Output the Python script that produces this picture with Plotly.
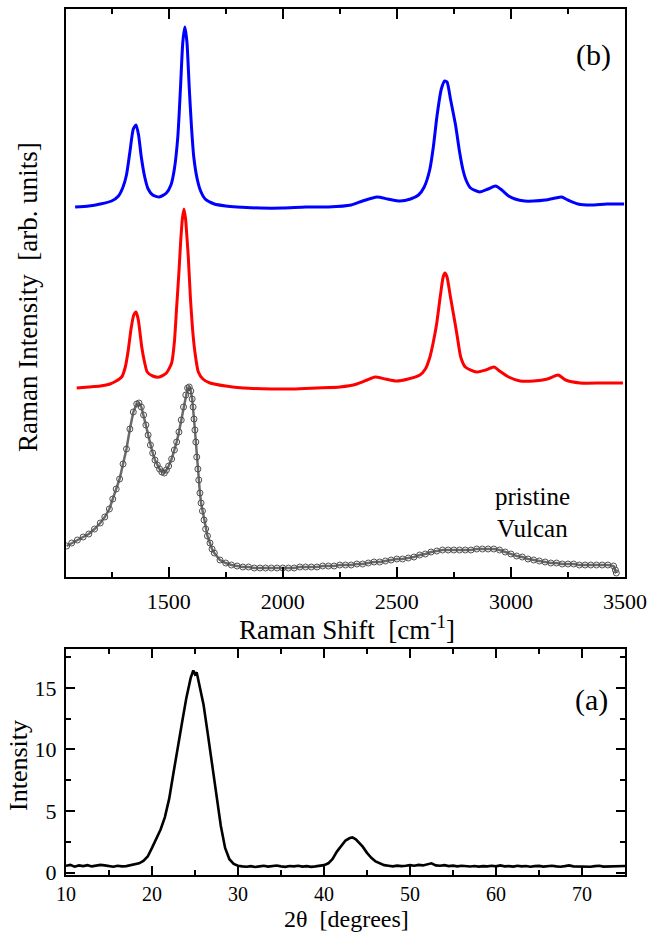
import plotly.graph_objects as go

W, H = 649, 935

# ---------------- Raman data (arb. units) ----------------
blue_x = [1090, 1150, 1200, 1250, 1280, 1300, 1315, 1330, 1345, 1357, 1368, 1380, 1395, 1410, 1430,
          1459, 1490, 1510, 1525, 1540, 1552, 1562, 1571, 1580, 1590, 1600, 1610, 1625, 1640, 1660,
          1700, 1750, 1800, 1900, 2000, 2100, 2200, 2300, 2350, 2413, 2460, 2514, 2560, 2595, 2620,
          2644, 2660, 2676, 2695, 2710, 2720, 2735, 2758, 2775, 2790, 2805, 2823, 2863, 2900, 2933,
          2960, 2990, 3018, 3060, 3099, 3150, 3195, 3222, 3250, 3294, 3350, 3420, 3496]
blue_y = [370, 371, 373, 376, 381, 390, 402, 425, 448, 452, 442, 420, 400, 388, 382,
          380, 384, 392, 408, 440, 490, 535, 550, 535, 490, 450, 420, 398, 386, 378,
          373, 371, 370, 369, 369, 370, 370, 372, 376, 380, 378, 376, 378, 382, 390,
          407, 430, 461, 488, 496, 495, 478, 451, 425, 407, 396, 389, 385, 388, 391,
          387, 381, 378, 376, 376, 377, 379, 380, 377, 373, 372, 373, 373]

red_x = [1097, 1150, 1200, 1243, 1270, 1294, 1310, 1323, 1335, 1347, 1357, 1367, 1375, 1382, 1395,
         1406, 1430, 1459, 1490, 1513, 1525, 1535, 1545, 1553, 1560, 1567, 1574, 1580, 1586, 1595,
         1605, 1615, 1630, 1650, 1681, 1750, 1827, 1950, 2046, 2150, 2251, 2325, 2370, 2404, 2450,
         2499, 2550, 2601, 2625, 2645, 2660, 2675, 2690, 2703, 2711, 2720, 2735, 2755, 2768, 2780,
         2800, 2850, 2890, 2926, 2950, 2990, 3040, 3100, 3160, 3207, 3240, 3303, 3400, 3491]
red_y = [189, 190, 191, 193, 196, 200, 210, 227, 248, 262, 265, 257, 243, 230, 214,
         205, 201, 200, 204, 214, 235, 270, 305, 337, 358, 368, 358, 340, 320, 280,
         247, 225, 205, 198, 194, 191, 189, 188, 188, 189, 190, 193, 197, 200, 198,
         196, 198, 202, 208, 220, 235, 254, 280, 300, 304, 300, 280, 254, 236, 220,
         210, 205, 207, 210, 206, 200, 196, 196, 198, 202, 197, 194, 194, 194]

vulcan_x = [1053, 1075, 1100, 1125, 1150, 1175, 1200, 1220, 1240, 1255, 1270, 1285, 1300, 1315, 1330,
            1345, 1360, 1370, 1380, 1390, 1400, 1410, 1420, 1430, 1440, 1450, 1460, 1470, 1481, 1490,
            1500, 1513, 1525, 1535, 1545, 1555, 1565, 1575, 1583, 1590, 1597, 1603, 1607, 1611, 1615,
            1619, 1623, 1628, 1632, 1637, 1642, 1648, 1655, 1662, 1670, 1681, 1690, 1700, 1725, 1750,
            1775, 1800, 1825, 1850, 1875, 1900, 1925, 1950, 1975, 2000, 2025, 2050, 2075, 2100, 2125,
            2150, 2175, 2200, 2225, 2250, 2275, 2300, 2325, 2350, 2375, 2400, 2425, 2450, 2475, 2500,
            2525, 2550, 2575, 2600, 2625, 2650, 2675, 2700, 2725, 2750, 2775, 2800, 2825, 2850, 2875,
            2900, 2925, 2950, 2975, 3000, 3025, 3050, 3075, 3100, 3125, 3150, 3175, 3200, 3225, 3250,
            3275, 3300, 3325, 3350, 3375, 3400, 3425, 3450, 3458, 3462]
vulcan_y = [31, 34, 37, 40, 43, 48, 54, 60, 68, 78, 88, 98, 113, 128, 148,
            165, 173, 174, 170, 162, 152, 142, 132, 124, 117, 112, 108, 105, 104, 107,
            111, 118, 127, 135, 145, 157, 170, 182, 189, 190, 186, 178, 170, 158, 147,
            135, 120, 108, 97, 84, 74, 66, 57, 48, 41, 34, 28, 24, 17, 14,
            12, 11, 10, 10, 9, 9, 9, 9, 9, 9, 9, 9, 10, 10, 10,
            10, 11, 11, 11, 12, 12, 12, 13, 13, 14, 15, 15, 16, 17, 18,
            18, 19, 20, 22, 23, 25, 26, 27, 27, 27, 27, 27, 27, 28, 28,
            28, 28, 27, 25, 23, 21, 20, 18, 17, 16, 15, 14, 14, 13, 13,
            13, 12, 12, 12, 12, 12, 12, 11, 7, 4]

raman_ticks = [1500, 2000, 2500, 3000, 3500]

# ---------------- XRD data ----------------
xrd_x = [10.0, 10.5, 11.0, 11.5, 12.0, 12.5, 13.0, 13.5, 14.0, 14.5, 15.0, 15.5, 16.0, 16.5, 17.0,
         17.5, 18.0, 18.5, 19.0, 19.5, 20.0, 20.5, 21.0, 21.5, 22.0, 22.5, 23.0, 23.5, 24.0, 24.5,
         24.8, 25.0, 25.2, 25.5, 26.0, 26.5, 27.0, 27.5, 28.0, 28.5, 29.0, 29.5, 30.0, 30.5, 31.0,
         31.5, 32.0, 32.5, 33.0, 33.5, 34.0, 34.5, 35.0, 35.5, 36.0, 36.5, 37.0, 37.5, 38.0, 38.5,
         39.0, 39.5, 40.0, 40.5, 41.0, 41.5, 42.0, 42.5, 43.0, 43.3, 43.7, 44.0, 44.5, 45.0, 45.5,
         46.0, 46.5, 47.0, 47.5, 48.0, 48.5, 49.0, 49.5, 50.0, 50.5, 51.0, 51.5, 52.0, 52.5, 53.0,
         53.5, 54.0, 54.5, 55.0, 55.5, 56.0, 56.5, 57.0, 57.5, 58.0, 58.5, 59.0, 59.5, 60.0, 60.5,
         61.0, 61.5, 62.0, 62.5, 63.0, 63.5, 64.0, 64.5, 65.0, 65.5, 66.0, 66.5, 67.0, 67.5, 68.0,
         68.5, 69.0, 69.5, 70.0, 70.5, 71.0, 71.5, 72.0, 72.5, 73.0, 73.5, 74.0, 74.5, 75.0]
xrd_y = [0.55, 0.62, 0.48, 0.58, 0.52, 0.60, 0.50, 0.55, 0.62, 0.58, 0.50, 0.47, 0.55, 0.50, 0.52,
         0.60, 0.65, 0.75, 0.95, 1.30, 2.00, 2.70, 3.50, 4.50, 6.00, 8.10, 10.30, 12.20, 14.20, 15.80,
         16.40, 16.10, 16.25, 15.30, 13.60, 11.20, 8.60, 6.40, 3.80, 2.00, 1.08, 0.70, 0.55, 0.50, 0.47,
         0.52, 0.45, 0.50, 0.55, 0.48, 0.52, 0.57, 0.50, 0.46, 0.53, 0.50, 0.55, 0.48, 0.52, 0.46,
         0.50, 0.55, 0.60, 0.75, 1.10, 1.70, 2.20, 2.60, 2.80, 2.85, 2.70, 2.50, 2.10, 1.60, 1.20,
         0.90, 0.72, 0.60, 0.55, 0.50, 0.56, 0.52, 0.55, 0.60, 0.55, 0.62, 0.58, 0.65, 0.75, 0.58,
         0.55, 0.60, 0.52, 0.56, 0.50, 0.55, 0.52, 0.49, 0.53, 0.48, 0.52, 0.50, 0.55, 0.50, 0.58,
         0.50, 0.52, 0.48, 0.55, 0.50, 0.53, 0.47, 0.52, 0.54, 0.48, 0.50, 0.55, 0.50, 0.47, 0.52,
         0.58, 0.50, 0.48, 0.52, 0.50, 0.47, 0.52, 0.55, 0.48, 0.50, 0.46, 0.52, 0.50, 0.53]

xrd_yticks = [0, 5, 10, 15]
xrd_xticks = [10, 20, 30, 40, 50, 60, 70]

# ---------------- layout helpers ----------------
def px(x):
    return x / W

def py(y):
    return 1 - y / H

FONT = "Liberation Serif"

fig = go.Figure()

fig.add_trace(go.Scatter(x=vulcan_x, y=vulcan_y, mode="lines+markers",
                         line=dict(color="#6a6a6a", width=2.5),
                         marker=dict(symbol="circle-open", size=6, color="#505050",
                                     line=dict(width=1, color="#505050")),
                         xaxis="x", yaxis="y", showlegend=False))
fig.add_trace(go.Scatter(x=red_x, y=red_y, mode="lines", line=dict(color="#ff0000", width=3, shape="spline", smoothing=0.6),
                         xaxis="x", yaxis="y", showlegend=False))
fig.add_trace(go.Scatter(x=blue_x, y=blue_y, mode="lines", line=dict(color="#0000ff", width=3, shape="spline", smoothing=0.6),
                         xaxis="x", yaxis="y", showlegend=False))
fig.add_trace(go.Scatter(x=xrd_x, y=xrd_y, mode="lines", line=dict(color="#000000", width=2.6),
                         xaxis="x2", yaxis="y2", showlegend=False))

axis_common = dict(showline=True, linecolor="black", linewidth=2, mirror="ticks", automargin=False,
                   ticks="inside", tickcolor="black", tickwidth=2, showgrid=False, zeroline=False)

TICKFONT = dict(family=FONT, size=22, color="black")

xdom = [px(66), px(625)]

fig.update_layout(
    width=W, height=H,
    margin=dict(l=0, r=0, t=0, b=0),
    paper_bgcolor="white", plot_bgcolor="white",
    font=dict(family=FONT, color="black"),
    xaxis=dict(domain=xdom, range=[1050, 3500], anchor="y",
               tickvals=raman_ticks, ticklen=10, ticklabelstandoff=4, tickfont=TICKFONT,
               minor=dict(dtick=250, tick0=1000, ticklen=5, ticks="inside", tickcolor="black", tickwidth=2),
               **axis_common),
    yaxis=dict(domain=[py(577), py(9)], range=[0, 568], anchor="x", automargin=False,
               showticklabels=False, ticks="", showline=True, linecolor="black", linewidth=2,
               mirror=True, showgrid=False, zeroline=False),
    xaxis2=dict(domain=xdom, range=[10, 75], anchor="y2",
                tickvals=xrd_xticks, ticklen=9, ticklabelstandoff=0,
                tickfont=dict(family=FONT, size=20, color="black"),
                minor=dict(dtick=5, tick0=0, ticklen=5, ticks="inside", tickcolor="black", tickwidth=2),
                **axis_common),
    yaxis2=dict(domain=[py(875), py(649)], range=[-0.2, 18.15], anchor="x2",
                tickvals=xrd_yticks, ticklen=9, ticklabelstandoff=3, tickfont=TICKFONT,
                minor=dict(dtick=2.5, tick0=0, ticklen=5, ticks="inside", tickcolor="black", tickwidth=2),
                **axis_common),
)

def ann(text, x, y, size, angle=0, xanchor="center"):
    fig.add_annotation(text=text, x=px(x), y=py(y), xref="paper", yref="paper",
                       showarrow=False, textangle=angle, xanchor=xanchor, yanchor="middle",
                       font=dict(family=FONT, size=size, color="black"))

ann("Raman Intensity  [arb. units]", 28, 297, 27, angle=-90)
ann("Raman Shift  [cm<sup>-1</sup>]", 347, 628, 27)
ann("Intensity", 18, 766, 26, angle=-90)
ann("2θ  [degrees]", 346, 919, 24)
ann("(b)", 593, 55, 30)
ann("(a)", 591, 700, 30)
ann("pristine", 532, 497, 25)
ann("Vulcan", 532, 528, 25)

fig.write_html("out.html")
